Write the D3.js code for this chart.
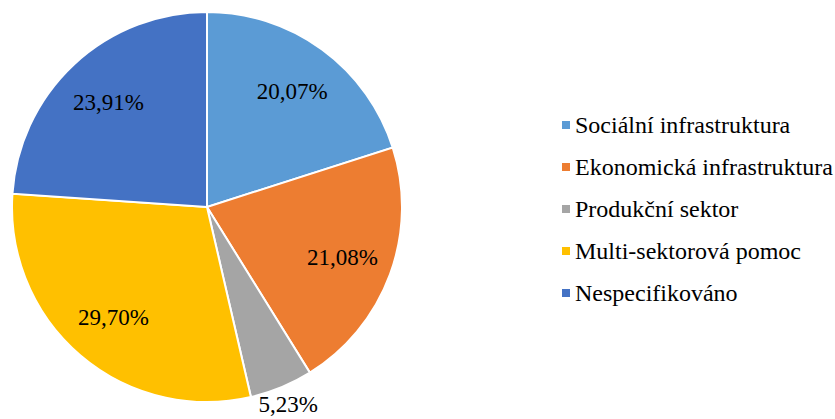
<!DOCTYPE html>
<html>
<head>
<meta charset="utf-8">
<script src="https://cdn.jsdelivr.net/npm/d3@7"></script>
<style>
  body { margin: 0; background: #fff; }
</style>
</head>
<body>
<div id="chart"></div>
<script>
// ── Data ─────────────────────────────────────────────────────────────────────
const categories = [
  'Sociální infrastruktura',
  'Ekonomická infrastruktura',
  'Produkční sektor',
  'Multi-sektorová pomoc',
  'Nespecifikováno'
];
const shares = [20.07, 21.08, 5.23, 29.70, 23.91];
const colors = ['#5B9BD5', '#ED7D31', '#A5A5A5', '#FFC000', '#4472C4'];

const FONT = 'Liberation Serif';

// ── Layout ───────────────────────────────────────────────────────────────────
const W = 835, H = 419;
const cx = 207, cy = 207, R = 195;

const svg = d3.select('#chart').append('svg')
  .attr('width', W)
  .attr('height', H);

const pie = d3.pie().sort(null).value(d => d);
const arcs = pie(shares);

const arc = d3.arc().innerRadius(0).outerRadius(R);
const labelArc = d3.arc().innerRadius(R * 0.74).outerRadius(R * 0.74);
const outerArc = d3.arc().innerRadius(R * 1.09).outerRadius(R * 1.09);

const g = svg.append('g').attr('transform', `translate(${cx},${cy})`);

g.selectAll('path')
  .data(arcs)
  .enter().append('path')
  .attr('d', arc)
  .attr('fill', (d, i) => colors[i])
  .attr('stroke', '#fff')
  .attr('stroke-width', 2);

const fmt = v => v.toFixed(2).replace('.', ',') + '%';

g.selectAll('text.lbl')
  .data(arcs)
  .enter().append('text')
  .attr('class', 'lbl')
  .attr('transform', d => {
    const small = (d.endAngle - d.startAngle) < 0.4;
    const p = (small ? outerArc : labelArc).centroid(d);
    return `translate(${p[0]},${p[1]})`;
  })
  .attr('text-anchor', 'middle')
  .attr('dy', '0.35em')
  .attr('font-family', FONT)
  .attr('font-size', 23)
  .text(d => fmt(d.value));

// ── Legend ───────────────────────────────────────────────────────────────────
const legend = svg.append('g').attr('transform', 'translate(562,125)');
const rows = legend.selectAll('g')
  .data(categories)
  .enter().append('g')
  .attr('transform', (d, i) => `translate(0,${i * 42})`);

rows.append('rect')
  .attr('x', 0).attr('y', -4)
  .attr('width', 8).attr('height', 8)
  .attr('fill', (d, i) => colors[i]);

rows.append('text')
  .attr('x', 13)
  .attr('dy', '0.35em')
  .attr('font-family', FONT)
  .attr('font-size', 24)
  .text(d => d);
</script>
</body>
</html>
